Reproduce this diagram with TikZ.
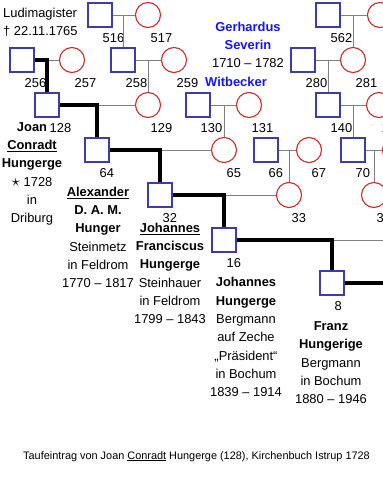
\documentclass[tikz,border=0pt]{standalone}
\usepackage{fontspec}
\setmainfont{Liberation Sans}
\usepackage{amssymb}
\usepackage{xcolor}
\definecolor{manblue}{RGB}{60,60,170}
\definecolor{womanred}{RGB}{210,40,40}
\definecolor{nameblue}{RGB}{20,20,255}

\begin{document}
\begin{tikzpicture}[x=1pt, y=-1pt, every node/.style={font=\fontsize{12.9}{18.3}\selectfont},
  man/.style={draw=manblue, line width=1.1pt, minimum size=24pt, inner sep=0pt, fill=white},
  woman/.style={circle, draw=womanred, line width=1.1pt, minimum size=25pt, inner sep=0pt, fill=white},
  kin/.style={gray, line width=1pt},
  stem/.style={line width=4.2pt},
  num/.style={anchor=base west, inner sep=0pt},
  bio/.style={align=center, anchor=base, inner sep=0pt}]
\useasboundingbox (0,0) rectangle (383,477);
\clip (0,0) rectangle (383,477);
\fill[white] (0,0) rectangle (383,477);
% fathers and mothers, numbered after Kekule
\foreach \n/\x/\y in {516/100/15, 256/22/60, 258/123/60, 128/47/105, 130/198/105, 64/97/150, 66/266/150, 32/160/195, 16/224/240, 8/332/283, 562/328/15, 280/303/60, 140/328/105, 70/353/150}{
	\node[man] (p\n) at (\x,\y) {};
	\node[num] (n\n) at (\x+2.5,\y+27.5) {\n};
}
\foreach \n/\x/\y in {517/148/15, 257/72/60, 259/174/60, 129/148/105, 131/249/105, 65/224/150, 67/309/150, 33/289/195, 563/380/15, 281/353/60, 141/379/105, 71/395/150, 35/374/195}{
	\node[woman] (p\n) at (\x,\y) {};
	\node[num] (n\n) at (\x+2.5,\y+27.5) {\n};
}
\coordinate (p17) at (440,240);
\coordinate (p4) at (430,330);
\foreach \f/\m/\c in {516/517/258, 256/257/128, 258/259/129, 128/129/64, 130/131/65, 64/65/32, 66/67/33, 32/33/16, 16/17/8, 562/563/281, 280/281/140, 140/141/70, 70/71/35}{
	\draw[kin] (p\f) -- (p\m);
	\draw[kin] (p\c |- p\f) -- (p\c);
}
\foreach \f/\c in {256/128, 128/64, 64/32, 32/16, 16/8, 8/4}
	\draw[stem] (p\f) -| (p\c);
% texts (base = last line)
\node[anchor=base west, align=left, inner sep=0pt] (ludi) at (3,35.6) {Ludimagister\\\textdagger{} 22.11.1765};
\node[bio] (gerh) at (248,67.6) {\textcolor{nameblue}{\textbf{Gerhardus}}\\\textcolor{nameblue}{\textbf{Severin}}\\1710 -- 1782};
\node[bio] (witb) at (236,86.6) {\textcolor{nameblue}{\textbf{Witbecker}}};
\node[bio] (joan) at (32,222.6) {\textbf{Joan}\\\underline{\textbf{Conradt}}\\\textbf{Hungerge}\\{\fontsize{17}{18}\selectfont$\star$} 1728\\in\\Driburg};
\node[bio] (alex) at (98,287.6) {\underline{\textbf{Alexander}}\\\textbf{D. A. M.}\\\textbf{Hunger}\\Steinmetz\\in Feldrom\\1770 -- 1817};
\node[bio] (jofr) at (170,323.6) {\underline{\textbf{Johannes}}\\\textbf{Franciscus}\\\textbf{Hungerge}\\Steinhauer\\in Feldrom\\1799 -- 1843};
\node[bio] (johu) at (246,396.6) {\textbf{Johannes}\\\textbf{Hungerge}\\Bergmann\\auf Zeche\\„Präsident“\\in Bochum\\1839 -- 1914};
\node[bio] (franz) at (331,403.6) {\textbf{Franz}\\\textbf{Hungerige}\\Bergmann\\in Bochum\\1880 -- 1946};
\node[anchor=base, inner sep=0pt, font=\fontsize{10.9}{13}\selectfont] (caption) at (196.5,459) {Taufeintrag von Joan \underline{Conradt} Hungerge (128), Kirchenbuch Istrup 1728};
\end{tikzpicture}
\end{document}
